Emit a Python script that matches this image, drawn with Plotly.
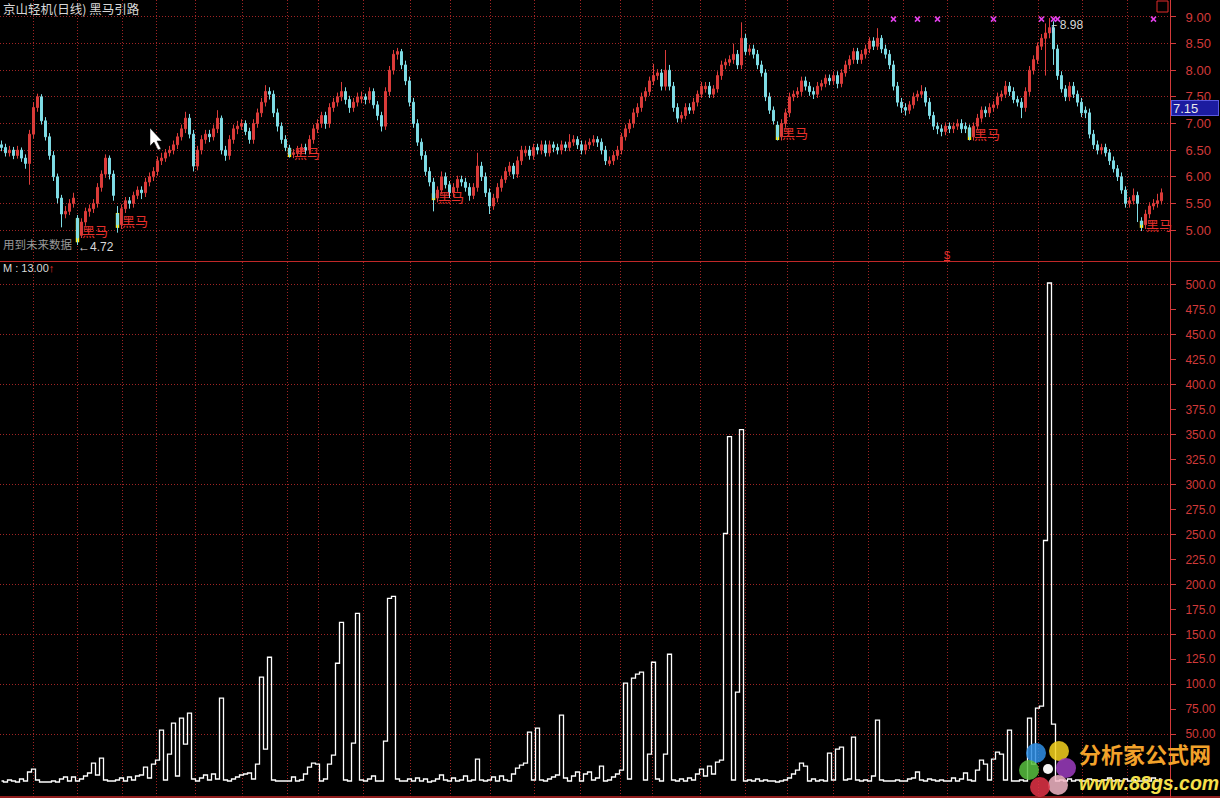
import plotly.graph_objects as go

# ---------------- data ----------------
open_ = [6.60, 6.55, 6.45, 6.50, 6.40, 6.50, 6.35, 6.25, 6.80, 7.30,
         7.50, 7.05, 6.75, 6.40, 6.00, 5.60, 5.30, 5.35, 5.50, 5.22,
         4.90, 5.15, 5.35, 5.40, 5.50, 5.80, 6.05, 6.35, 6.05, 5.30,
         5.10, 5.40, 5.55, 5.50, 5.65, 5.75, 5.70, 5.90, 6.00, 6.10,
         6.30, 6.35, 6.45, 6.50, 6.60, 6.75, 6.90, 7.10, 6.80, 6.20,
         6.50, 6.70, 6.80, 6.75, 6.90, 7.10, 6.50, 6.40, 6.70, 6.90,
         6.95, 7.00, 6.85, 6.70, 7.00, 7.20, 7.40, 7.60, 7.55, 7.20,
         6.95, 6.70, 6.54, 6.42, 6.45, 6.50, 6.55, 6.50, 6.70, 6.90,
         7.00, 7.15, 7.00, 7.30, 7.40, 7.50, 7.60, 7.45, 7.30, 7.40,
         7.46, 7.50, 7.45, 7.60, 7.35, 7.15, 6.95, 7.60, 8.00, 8.30,
         8.35, 8.10, 7.80, 7.40, 7.00, 6.65, 6.40, 6.10, 5.90, 5.60,
         5.75, 6.00, 5.85, 5.70, 5.80, 5.95, 5.90, 5.80, 5.65, 5.80,
         6.20, 6.00, 5.70, 5.45, 5.60, 5.80, 5.95, 6.10, 6.20, 6.05,
         6.30, 6.45, 6.50, 6.40, 6.55, 6.50, 6.60, 6.45, 6.60, 6.55,
         6.50, 6.60, 6.55, 6.65, 6.70, 6.60, 6.50, 6.60, 6.65, 6.70,
         6.65, 6.50, 6.25, 6.30, 6.40, 6.50, 6.75, 6.90, 7.00, 7.20,
         7.30, 7.50, 7.60, 7.80, 7.90, 7.95, 7.70, 8.00, 7.70, 7.30,
         7.10, 7.15, 7.30, 7.25, 7.40, 7.55, 7.65, 7.70, 7.55, 7.65,
         7.90, 8.10, 8.15, 8.20, 8.30, 8.10, 8.60, 8.35, 8.40, 8.30,
         8.10, 7.95, 7.50, 7.25, 6.97, 6.75, 7.00, 7.20, 7.50, 7.55,
         7.60, 7.80, 7.70, 7.60, 7.55, 7.70, 7.75, 7.85, 7.80, 7.90,
         7.75, 7.95, 8.10, 8.20, 8.35, 8.20, 8.30, 8.40, 8.55, 8.45,
         8.60, 8.40, 8.30, 8.10, 7.70, 7.40, 7.30, 7.25, 7.35, 7.50,
         7.55, 7.60, 7.40, 7.15, 6.95, 6.90, 6.85, 6.95, 6.90, 6.95,
         7.00, 6.95, 6.92, 6.75, 6.95, 7.10, 7.25, 7.20, 7.30, 7.35,
         7.50, 7.55, 7.70, 7.60, 7.45, 7.40, 7.30, 7.60, 8.00, 8.20,
         8.45, 8.60, 8.70, 8.80, 8.40, 7.90, 7.65, 7.50, 7.70, 7.55,
         7.40, 7.25, 7.20, 6.80, 6.60, 6.50, 6.55, 6.45, 6.30, 6.15,
         6.00, 5.75, 5.50, 5.55, 5.65, 5.17, 5.10, 5.30, 5.45, 5.50, 5.55]

close = [6.55, 6.45, 6.50, 6.40, 6.50, 6.35, 6.25, 6.80, 7.30, 7.50,
         7.05, 6.75, 6.40, 6.00, 5.60, 5.30, 5.35, 5.50, 5.60, 4.85,
         5.15, 5.35, 5.40, 5.50, 5.80, 6.05, 6.35, 6.05, 5.65, 5.10,
         5.40, 5.55, 5.50, 5.65, 5.75, 5.70, 5.90, 6.00, 6.10, 6.30,
         6.35, 6.45, 6.50, 6.60, 6.75, 6.90, 7.10, 6.80, 6.20, 6.50,
         6.70, 6.80, 6.75, 6.90, 7.10, 6.50, 6.40, 6.70, 6.90, 6.95,
         7.00, 6.85, 6.70, 7.00, 7.20, 7.40, 7.60, 7.55, 7.20, 6.95,
         6.70, 6.55, 6.42, 6.45, 6.50, 6.55, 6.50, 6.70, 6.90, 7.00,
         7.15, 7.00, 7.30, 7.40, 7.50, 7.60, 7.45, 7.30, 7.40, 7.50,
         7.50, 7.45, 7.60, 7.35, 7.15, 6.95, 7.60, 8.00, 8.30, 8.35,
         8.10, 7.80, 7.40, 7.00, 6.65, 6.40, 6.10, 5.90, 5.60, 5.75,
         6.00, 5.85, 5.70, 5.80, 5.95, 5.90, 5.80, 5.65, 5.80, 6.20,
         6.00, 5.70, 5.45, 5.60, 5.80, 5.95, 6.10, 6.20, 6.05, 6.30,
         6.50, 6.50, 6.40, 6.55, 6.50, 6.60, 6.45, 6.60, 6.55, 6.50,
         6.60, 6.55, 6.65, 6.70, 6.60, 6.50, 6.60, 6.65, 6.70, 6.65,
         6.50, 6.30, 6.30, 6.40, 6.50, 6.75, 6.90, 7.00, 7.20, 7.30,
         7.50, 7.60, 7.80, 7.90, 7.95, 7.70, 8.00, 7.70, 7.30, 7.10,
         7.15, 7.30, 7.25, 7.40, 7.55, 7.70, 7.70, 7.55, 7.65, 7.90,
         8.10, 8.15, 8.20, 8.30, 8.10, 8.60, 8.35, 8.40, 8.30, 8.10,
         7.95, 7.50, 7.25, 7.05, 6.75, 7.00, 7.20, 7.50, 7.55, 7.60,
         7.80, 7.70, 7.60, 7.55, 7.70, 7.75, 7.85, 7.80, 7.90, 7.75,
         7.95, 8.10, 8.20, 8.35, 8.20, 8.30, 8.40, 8.55, 8.45, 8.60,
         8.40, 8.30, 8.10, 7.70, 7.40, 7.30, 7.25, 7.35, 7.50, 7.55,
         7.60, 7.40, 7.15, 6.95, 6.90, 6.85, 6.95, 6.90, 6.95, 7.00,
         6.90, 6.90, 6.75, 6.95, 7.10, 7.25, 7.20, 7.30, 7.35, 7.50,
         7.55, 7.70, 7.60, 7.45, 7.40, 7.30, 7.60, 8.00, 8.20, 8.45,
         8.60, 8.70, 8.80, 8.40, 7.90, 7.65, 7.50, 7.70, 7.55, 7.40,
         7.20, 7.20, 6.80, 6.60, 6.50, 6.55, 6.45, 6.30, 6.15, 6.00,
         5.75, 5.50, 5.55, 5.65, 5.50, 5.10, 5.30, 5.45, 5.50, 5.55, 5.70]

high = [6.68, 6.62, 6.58, 6.56, 6.58, 6.55, 6.42, 6.88, 7.40, 7.56,
        7.55, 7.12, 6.82, 6.48, 6.06, 5.66, 5.45, 5.58, 5.70, 5.28,
        5.22, 5.42, 5.48, 5.58, 5.88, 6.12, 6.42, 6.40, 6.12, 5.45,
        5.48, 5.62, 5.62, 5.72, 5.82, 5.82, 5.98, 6.08, 6.18, 6.38,
        6.45, 6.52, 6.58, 6.68, 6.82, 6.98, 7.22, 7.18, 6.88, 6.58,
        6.78, 6.88, 6.88, 6.98, 7.25, 7.15, 6.58, 6.78, 6.98, 7.05,
        7.08, 7.06, 6.92, 7.08, 7.28, 7.48, 7.72, 7.68, 7.62, 7.28,
        7.02, 6.78, 6.60, 6.52, 6.58, 6.62, 6.62, 6.78, 6.98, 7.08,
        7.22, 7.22, 7.38, 7.48, 7.58, 7.78, 7.68, 7.52, 7.48, 7.58,
        7.60, 7.56, 7.68, 7.66, 7.42, 7.22, 7.68, 8.08, 8.38, 8.42,
        8.40, 8.18, 7.88, 7.48, 7.08, 6.72, 6.48, 6.18, 5.98, 5.82,
        6.10, 6.08, 5.92, 5.88, 6.02, 6.02, 5.98, 5.88, 5.88, 6.45,
        6.28, 6.08, 5.78, 5.68, 5.88, 6.02, 6.18, 6.28, 6.26, 6.38,
        6.58, 6.58, 6.58, 6.62, 6.62, 6.68, 6.68, 6.68, 6.66, 6.62,
        6.68, 6.66, 6.80, 6.78, 6.76, 6.68, 6.68, 6.72, 6.78, 6.76,
        6.72, 6.58, 6.38, 6.48, 6.58, 6.82, 6.98, 7.08, 7.28, 7.38,
        7.58, 7.68, 7.88, 8.12, 8.02, 8.02, 8.38, 8.10, 7.78, 7.38,
        7.22, 7.38, 7.38, 7.48, 7.62, 7.78, 7.78, 7.78, 7.72, 7.98,
        8.18, 8.22, 8.28, 8.50, 8.38, 8.90, 8.68, 8.48, 8.48, 8.38,
        8.18, 8.02, 7.58, 7.32, 7.04, 7.08, 7.28, 7.58, 7.62, 7.68,
        7.88, 7.88, 7.78, 7.68, 7.78, 7.82, 7.92, 7.92, 7.98, 7.98,
        8.02, 8.18, 8.28, 8.42, 8.42, 8.38, 8.48, 8.62, 8.62, 8.79,
        8.66, 8.48, 8.38, 8.18, 7.78, 7.48, 7.38, 7.42, 7.58, 7.62,
        7.72, 7.68, 7.48, 7.22, 7.02, 6.98, 7.02, 7.02, 7.02, 7.08,
        7.08, 7.02, 6.98, 7.02, 7.18, 7.32, 7.32, 7.38, 7.42, 7.58,
        7.62, 7.80, 7.78, 7.68, 7.52, 7.48, 7.68, 8.08, 8.28, 8.52,
        8.68, 8.88, 8.98, 8.92, 8.48, 7.98, 7.72, 7.78, 7.78, 7.62,
        7.48, 7.32, 7.28, 6.88, 6.68, 6.62, 6.62, 6.52, 6.38, 6.22,
        6.08, 5.82, 5.62, 5.78, 5.72, 5.24, 5.38, 5.52, 5.58, 5.68, 5.78]

low = [6.48, 6.38, 6.38, 6.33, 6.34, 6.28, 6.15, 5.85, 6.72, 7.22,
       6.98, 6.68, 6.32, 5.92, 5.50, 5.05, 5.22, 5.28, 5.42, 4.72,
       4.85, 5.08, 5.25, 5.32, 5.42, 5.72, 5.98, 5.95, 5.55, 4.95,
       5.02, 5.32, 5.40, 5.42, 5.58, 5.58, 5.62, 5.82, 5.92, 6.02,
       6.22, 6.28, 6.38, 6.42, 6.52, 6.68, 6.82, 6.72, 6.10, 6.12,
       6.42, 6.62, 6.65, 6.68, 6.82, 6.42, 6.30, 6.32, 6.62, 6.80,
       6.88, 6.78, 6.62, 6.62, 6.92, 7.12, 7.32, 7.45, 7.12, 6.85,
       6.62, 6.48, 6.36, 6.35, 6.38, 6.42, 6.42, 6.42, 6.62, 6.82,
       6.92, 6.90, 6.92, 7.22, 7.32, 7.42, 7.36, 7.20, 7.22, 7.32,
       7.38, 7.36, 7.38, 7.28, 7.06, 6.85, 6.88, 7.52, 7.92, 8.20,
       8.02, 7.72, 7.32, 6.92, 6.58, 6.32, 6.02, 5.82, 5.35, 5.52,
       5.68, 5.78, 5.60, 5.62, 5.72, 5.82, 5.72, 5.55, 5.58, 5.72,
       5.92, 5.62, 5.30, 5.38, 5.52, 5.72, 5.88, 6.02, 5.96, 5.98,
       6.22, 6.38, 6.32, 6.32, 6.42, 6.42, 6.38, 6.38, 6.46, 6.42,
       6.42, 6.48, 6.48, 6.58, 6.52, 6.42, 6.42, 6.52, 6.58, 6.56,
       6.42, 6.22, 6.20, 6.22, 6.32, 6.42, 6.68, 6.82, 6.92, 7.12,
       7.22, 7.42, 7.52, 7.72, 7.82, 7.62, 7.62, 7.62, 7.22, 7.02,
       7.02, 7.08, 7.18, 7.18, 7.32, 7.48, 7.58, 7.48, 7.48, 7.58,
       7.82, 8.02, 8.08, 8.12, 8.02, 8.02, 8.28, 8.28, 8.22, 8.02,
       7.88, 7.42, 7.18, 6.98, 6.68, 6.68, 6.92, 7.12, 7.42, 7.48,
       7.52, 7.62, 7.52, 7.46, 7.48, 7.62, 7.68, 7.72, 7.72, 7.66,
       7.68, 7.88, 8.02, 8.12, 8.12, 8.12, 8.22, 8.32, 8.38, 8.38,
       8.32, 8.22, 8.02, 7.62, 7.32, 7.20, 7.15, 7.18, 7.28, 7.42,
       7.48, 7.32, 7.08, 6.88, 6.80, 6.76, 6.78, 6.82, 6.82, 6.88,
       6.82, 6.82, 6.68, 6.68, 6.88, 7.02, 7.12, 7.12, 7.22, 7.28,
       7.42, 7.48, 7.52, 7.38, 7.32, 7.10, 7.22, 7.52, 7.92, 8.12,
       8.38, 7.90, 8.60, 8.10, 7.82, 7.58, 7.42, 7.42, 7.48, 7.32,
       7.12, 7.10, 6.72, 6.52, 6.42, 6.42, 6.38, 6.22, 6.08, 5.92,
       5.68, 5.42, 5.42, 5.48, 5.15, 4.98, 5.02, 5.22, 5.38, 5.42, 5.48]

# indicator "M" (lower panel)
m_values = [3, 2, 4, 3, 2, 5, 3, 12, 15, 4,
            2, 2, 2, 3, 2, 5, 7, 3, 7, 3,
            5, 8, 11, 21, 9, 26, 4, 3, 3, 4,
            6, 3, 7, 4, 8, 9, 17, 6, 20, 24,
            54, 4, 30, 61, 8, 66, 40, 71, 5, 3,
            6, 9, 4, 10, 5, 86, 4, 3, 5, 7,
            9, 10, 11, 5, 20, 107, 35, 127, 4, 3,
            3, 3, 3, 7, 3, 4, 10, 17, 21, 20,
            3, 5, 20, 29, 121, 162, 4, 3, 41, 171,
            4, 3, 5, 8, 3, 3, 43, 186, 188, 5,
            3, 3, 5, 3, 6, 3, 5, 2, 3, 5,
            9, 4, 3, 6, 3, 4, 8, 3, 4, 25,
            4, 3, 4, 7, 3, 8, 4, 3, 10, 16,
            19, 21, 52, 4, 56, 4, 3, 5, 7, 9,
            69, 6, 3, 8, 12, 3, 10, 12, 4, 6,
            18, 3, 4, 7, 10, 14, 101, 5, 106, 110,
            112, 4, 30, 122, 5, 3, 30, 130, 4, 3,
            5, 3, 6, 4, 10, 15, 8, 18, 10, 22,
            24, 251, 348, 4, 92, 355, 3, 4, 3, 5,
            3, 4, 3, 3, 2, 3, 4, 6, 10, 14,
            21, 18, 3, 5, 3, 4, 3, 31, 4, 35,
            37, 4, 5, 47, 4, 3, 4, 3, 8, 64,
            4, 3, 3, 3, 4, 3, 3, 5, 6, 12,
            4, 3, 5, 4, 3, 4, 3, 3, 6, 3,
            5, 11, 4, 3, 14, 24, 20, 4, 25, 32,
            30, 4, 54, 3, 3, 4, 3, 66, 20, 76,
            78, 244, 502, 60, 3, 4, 3, 5, 3, 4,
            3, 3, 5, 4, 3, 3, 4, 6, 3, 4,
            3, 5, 3, 4, 3, 3, 4, 3, 6, 3, 5]

bars = list(range(len(close)))

# "黑马" signal bars (bar index, body top, body bottom)
heima_idx = [19, 29, 72, 108, 194, 242, 285]
heima_top = [5.22, 5.32, 6.54, 5.69, 6.97, 6.92, 5.17]
heima_bot = [4.77, 5.04, 6.37, 5.56, 6.69, 6.69, 5.04]

# magenta "x" signal marks along the top
xmark_idx = [223, 229, 234, 248, 260, 263, 264, 288]
xmark_level = 8.96

# month separators (bar index) used for vertical grid
month_starts = [8, 19, 30.25, 38.75, 48.5, 60.25, 71.5, 79.25, 90.5, 102.25,
                112.25, 122.25, 133.25, 144.75, 154.75, 162.75, 174.75, 186,
                196.5, 208, 216.75, 225.5, 236.5, 248, 259.25, 270.25, 281.5]

price_ticks = [5.0, 5.5, 6.0, 6.5, 7.0, 7.5, 8.0, 8.5, 9.0]
m_ticks = [50, 75, 100, 125, 150, 175, 200, 225, 250, 275, 300, 325, 350,
           375, 400, 425, 450, 475, 500]
m_grid = [50, 100, 150, 200, 250, 300, 350, 400, 450, 500]

# ---------------- styling ----------------
W, H = 1220, 798
PW = 1170  # plot area width in px
UP = "#dc3c3a"
DOWN = "#7fdde6"
GRID = "#a02424"
GDASH = "1px,2px"
AXRED = "#d23a3a"
TXT = "#d8d8d8"
CJK = "Noto Sans CJK SC"
NUM = "Liberation Sans, Arial, sans-serif"


def PX(px):
    return px / PW


def PY(py):
    return 1 - py / H


fig = go.Figure()

fig.add_trace(go.Candlestick(
    x=bars, open=open_, high=high, low=low, close=close,
    increasing=dict(line=dict(color=UP, width=1), fillcolor=UP),
    decreasing=dict(line=dict(color=DOWN, width=1), fillcolor=DOWN),
    whiskerwidth=0, xaxis="x", yaxis="y", showlegend=False, hoverinfo="skip"))

fig.add_trace(go.Bar(
    x=heima_idx, y=[t - b for t, b in zip(heima_top, heima_bot)], base=heima_bot,
    width=0.85, marker=dict(color="#ffee10", line=dict(width=0)),
    xaxis="x", yaxis="y", showlegend=False, hoverinfo="skip"))

fig.add_trace(go.Scatter(
    x=xmark_idx, y=[xmark_level] * len(xmark_idx), mode="markers",
    marker=dict(symbol="x-thin", size=5, line=dict(color="#e040e8", width=1.5)),
    xaxis="x", yaxis="y", showlegend=False, hoverinfo="skip"))

fig.add_trace(go.Scatter(
    x=bars, y=m_values, mode="lines", line=dict(color="#ffffff", width=1.3, shape="hvh"),
    xaxis="x2", yaxis="y2", showlegend=False, hoverinfo="skip"))

# invisible trace to carry the grid-only overlay axis
fig.add_trace(go.Scatter(x=[bars[0]], y=[m_grid[0]], mode="markers",
                         marker=dict(opacity=0), xaxis="x2", yaxis="y3",
                         showlegend=False, hoverinfo="skip"))

xcommon = dict(range=[-0.375, 292.125], showgrid=True, gridcolor=GRID, griddash=GDASH,
               gridwidth=1, tickmode="array", tickvals=month_starts,
               showticklabels=False, ticks="", zeroline=False, showline=False,
               fixedrange=True)

top_dom = [1 - 261 / H, 1]
bot_dom = [0, 1 - 262 / H]

fig.update_layout(
    width=W, height=H, margin=dict(l=0, r=W - PW, t=0, b=0),
    paper_bgcolor="#000000", plot_bgcolor="#000000",
    showlegend=False, barmode="overlay", hovermode=False, dragmode=False,
    xaxis=dict(domain=[0, 1], anchor="y", rangeslider=dict(visible=False), **xcommon),
    xaxis2=dict(domain=[0, 1], anchor="y2", matches="x", **xcommon),
    yaxis=dict(domain=top_dom, range=[4.418, 9.319], side="right",
               tickmode="array", tickvals=price_ticks,
               ticktext=[f"{v:.2f}" for v in price_ticks],
               tickfont=dict(family=NUM, size=13, color=AXRED),
               ticks="outside", ticklen=5, tickcolor=AXRED, ticklabelstandoff=7,
               showgrid=True, gridcolor=GRID, griddash=GDASH,
               showline=True, linecolor=AXRED, linewidth=1, zeroline=False),
    yaxis2=dict(domain=bot_dom, range=[-14.03, 523.04], side="right", anchor="x2",
                tickmode="array", tickvals=m_ticks,
                ticktext=[(f"{v:.2f}" if v < 100 else f"{v:.1f}") for v in m_ticks],
                tickfont=dict(family=NUM, size=12, color=AXRED),
                ticks="outside", ticklen=5, tickcolor=AXRED, ticklabelstandoff=7,
                showgrid=False, showline=True, linecolor=AXRED, linewidth=1,
                zeroline=False),
    yaxis3=dict(domain=bot_dom, range=[-14.03, 523.04], overlaying="y2", side="right",
                anchor="x2", tickmode="array", tickvals=m_grid,
                showticklabels=False, ticks="", showgrid=True, gridcolor=GRID,
                griddash=GDASH, zeroline=False, showline=False),
)

ann = []
# 黑马 labels
for i, t, b in zip(heima_idx, heima_top, heima_bot):
    ann.append(dict(x=i, y=(t + b) / 2, xref="x", yref="y", text="黑马",
                    showarrow=False, xanchor="left", yanchor="middle", xshift=2,
                    font=dict(family=CJK, size=13, color="#e8302c")))

ann += [
    dict(x=PX(1), y=PY(8), text="京山轻机(日线) 黑马引路", font=dict(family=CJK, size=12.5, color=TXT)),
    dict(x=PX(1), y=PY(244), text="用到未来数据", font=dict(family=CJK, size=11.5, color="#9a9a9a")),
    dict(x=PX(76), y=PY(247), text="←4.72", font=dict(family=NUM, size=12, color=TXT)),
    dict(x=PX(1046), y=PY(26), text="┌ 8.98", font=dict(family=NUM, size=12, color=TXT)),
    dict(x=PX(1), y=PY(268), text="M : 13.00<span style='color:#e8302c'>↑</span>",
         font=dict(family=NUM, size=11, color=TXT)),
    dict(x=PX(942), y=PY(255), text="<u>$</u>", font=dict(family=NUM, size=11, color="#e8302c")),
    dict(x=PX(1171), y=PY(107.5), text="7.15", font=dict(family=NUM, size=13, color="#e8e8e8"),
         bgcolor="#1c1ca0", bordercolor="#5a5ae0", borderwidth=1, width=44, height=12,
         align="left"),
    dict(x=PX(1077), y=PY(753), text="<b>分析家公式网</b>",
         font=dict(family=CJK, size=22, color="#f2a22a")),
    dict(x=PX(1077), y=PY(783), text="<b><i>www.88gs.com</i></b>",
         font=dict(family="Liberation Sans", size=19.5, color="#f5e04a")),
]
for a in ann:
    a.setdefault("xref", "paper")
    a.setdefault("yref", "paper")
    a.setdefault("showarrow", False)
    a.setdefault("xanchor", "left")
    a.setdefault("yanchor", "middle")
fig.update_layout(annotations=ann)

shapes = [
    # panel separator and bottom border
    dict(type="line", xref="paper", yref="paper", x0=0, x1=PX(W), y0=PY(261.5), y1=PY(261.5),
         line=dict(color="#c02828", width=1)),
    dict(type="line", xref="paper", yref="paper", x0=0, x1=PX(W), y0=PY(797), y1=PY(797),
         line=dict(color="#c02828", width=1.5)),
    # small red box top right
    dict(type="rect", xref="paper", yref="paper", x0=PX(1157), x1=PX(1168), y0=PY(12), y1=PY(1),
         line=dict(color="#e02a2a", width=1)),
]
# logo flower petals
petals = [(1036, 753, "#2f8fe6"), (1059, 751, "#f4d21e"), (1066, 768, "#9c3cc0"),
          (1058, 785, "#f2b6c6"), (1040, 787, "#e23246"), (1029, 770, "#58c040")]
for cx, cy, col in petals:
    shapes.append(dict(type="circle", xref="paper", yref="paper",
                       x0=PX(cx - 10), x1=PX(cx + 10), y0=PY(cy + 10), y1=PY(cy - 10),
                       fillcolor=col, opacity=0.85, line=dict(width=0)))
shapes.append(dict(type="circle", xref="paper", yref="paper",
                   x0=PX(1043), x1=PX(1053), y0=PY(774), y1=PY(764),
                   fillcolor="#f4f4f4", line=dict(width=0)))
# mouse cursor arrow
cur = [(150, 128), (150, 146), (154, 142), (158, 150), (161, 149), (157, 141), (162, 141)]
path = "M " + " L ".join(f"{PX(x):.5f},{PY(y):.5f}" for x, y in cur) + " Z"
shapes.append(dict(type="path", xref="paper", yref="paper", path=path,
                   fillcolor="#ffffff", line=dict(color="#000000", width=0.5)))
fig.update_layout(shapes=shapes)

fig.write_html("out.html",
               config={"displayModeBar": False, "staticPlot": True},
               post_script="document.body.style.margin='0px';"
                           "document.body.style.overflow='hidden';"
                           "document.body.style.background='#000';")
